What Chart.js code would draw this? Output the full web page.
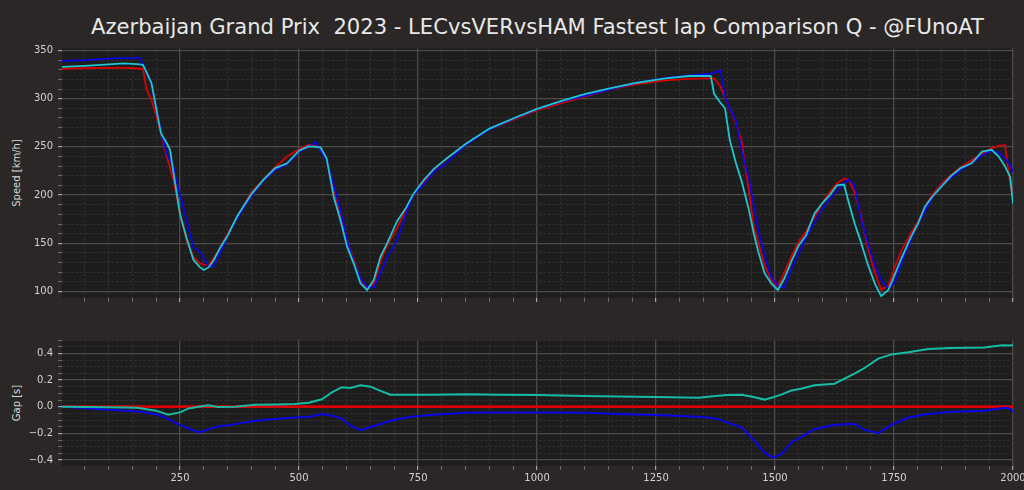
<!DOCTYPE html>
<html><head><meta charset="utf-8">
<script src="https://cdn.jsdelivr.net/npm/chart.js@4.4.0/dist/chart.umd.min.js"></script>
<style>
html,body{margin:0;padding:0;background:#2a2726;width:1024px;height:490px;overflow:hidden;font-family:"DejaVu Sans",sans-serif;}
#title{position:absolute;left:62px;width:951px;top:14px;text-align:center;color:#e8e8e8;font-size:21.1px;line-height:26px;white-space:pre;}
.ylab{position:absolute;width:200px;height:12px;line-height:12px;color:#d8d8d8;font-size:10px;text-align:center;transform:rotate(-90deg);white-space:nowrap;}
#w1{position:absolute;left:0;top:0;}
#w2{position:absolute;left:0;top:310px;}
</style></head>
<body>
<div id="title">Azerbaijan Grand Prix  2023 - LECvsVERvsHAM Fastest lap Comparison Q - @FUnoAT</div>
<div class="ylab" style="left:-83px;top:167px;">Speed [km/h]</div>
<div class="ylab" style="left:-83px;top:397px;">Gap [s]</div>
<canvas id="w1" width="1024" height="308"></canvas>
<canvas id="w2" width="1024" height="180"></canvas>
<script>
// ---- Speed trace data ----
const distance = [
  2, 50, 100, 130, 150, 165, 172, 180, 190, 200,
  210, 222, 229, 236, 243, 250, 264, 278, 292, 300,
  310, 320, 335, 350, 370, 400, 425, 450, 475, 500,
  520, 535, 545, 558, 573, 587, 601, 615, 629, 643,
  657, 671, 685, 706, 725, 740, 762, 785, 810, 850,
  900, 960, 1000, 1050, 1100, 1155, 1210, 1270, 1320, 1365,
  1372, 1385, 1395, 1405, 1418, 1430, 1445, 1455, 1465, 1478,
  1492, 1506, 1520, 1535, 1550, 1565, 1583, 1600, 1615, 1630,
  1645, 1655, 1667, 1680, 1695, 1710, 1723, 1738, 1752, 1766,
  1785, 1800, 1815, 1830, 1850, 1870, 1890, 1913, 1935, 1955,
  1970, 1983, 1994, 2000
];
const lecSpeed = [
  331, 331.5, 332, 332, 331.5, 331, 331, 309, 299, 282,
  264, 240, 228, 216, 199, 181, 153, 136, 129, 128,
  127.5, 134, 146, 160, 177, 203, 216, 229, 240, 247.5,
  252, 251, 247, 236, 205, 182, 153, 133, 113, 103,
  108, 131, 148, 166, 186, 199, 214, 227, 238, 253,
  268, 280, 288, 295, 302, 310, 315, 319, 320.5, 321,
  321, 313, 301, 290, 275, 255, 205, 168, 150, 127,
  112, 105, 120, 137, 152, 162, 177.6, 192, 203, 212,
  217, 216, 203, 180, 145, 119, 102, 106, 126, 143,
  160, 172, 188, 200, 212, 221, 229, 236, 243, 248.5,
  251, 252, 212, 199
];
const verSpeed = [
  339, 340, 341.5, 342, 342, 342, 336, 326, 316, 290,
  266, 243.5, 236, 229.5, 214, 200, 174, 146, 141, 134,
  126, 126, 140, 158, 176, 199, 215, 226, 232, 245,
  250, 255, 246, 236, 210, 185, 153, 130, 114, 105,
  104, 119, 135, 153, 181, 200, 211, 225, 233, 252,
  268, 281, 289, 297, 303, 310, 316.5, 321.5, 324, 326,
  327, 329, 302, 290, 277, 246, 217, 190, 163, 138,
  115, 106, 104, 124, 140, 156, 172, 186, 196, 204,
  213, 216, 210, 176, 150, 126, 112, 103, 110, 130,
  153, 170, 183, 197, 210, 218, 226, 233, 241, 246,
  244, 238, 231, 224
];
const hamSpeed = [
  333, 334, 335.5, 336.5, 336, 335.5, 335, 327, 316, 290,
  264, 254, 247, 224, 202, 180, 155, 133, 125, 122.3,
  125, 132, 146, 158, 178, 201, 215.7, 228, 233, 246,
  250.5, 250, 249.5, 238, 198, 174, 146.5, 129, 108.5, 101.6,
  112, 136, 150, 173, 187, 201, 215.7, 228, 238, 253,
  269, 281.5, 289.3, 297.5, 304.6, 310.8, 316.5, 321, 323.5, 323.5,
  305, 296, 290, 257, 233, 214, 185, 161, 141, 119,
  108.5, 101.6, 114, 132, 148, 158, 181, 192, 200, 210,
  211, 192, 171, 152, 128, 108, 95.3, 101.6, 118, 135,
  156, 170, 188, 198, 209, 220, 228, 233, 245, 247,
  240, 230, 219, 191
];
// ---- Gap data (reference: LEC) ----
const gapDistance = [
  2, 100, 160, 200, 225, 250, 268, 289, 310, 330,
  366, 408, 450, 492, 520, 548, 570, 590, 608, 629,
  650, 670, 692, 734, 783, 850, 920, 1000, 1100, 1170,
  1250, 1340, 1375, 1400, 1430, 1457, 1478, 1496, 1513, 1534,
  1555, 1583, 1625, 1667, 1688, 1717, 1745, 1780, 1822, 1870,
  1940, 1977, 1990, 2000
];
const lecGap = [
  0, 0, 0, 0, 0, 0, 0, 0, 0, 0,
  0, 0, 0, 0, 0, 0, 0, 0, 0, 0,
  0, 0, 0, 0, 0, 0, 0, 0, 0, 0,
  0, 0, 0, 0, 0, 0, 0, 0, 0, 0,
  0, 0, 0, 0, 0, 0, 0, 0, 0, 0,
  0, 0, 0, 0
];
const verGap = [
  0, -0.023, -0.034, -0.057, -0.092, -0.138, -0.164, -0.194, -0.17, -0.148,
  -0.131, -0.106, -0.093, -0.081, -0.078, -0.055, -0.068, -0.09, -0.143, -0.176,
  -0.152, -0.132, -0.106, -0.075, -0.06, -0.045, -0.043, -0.043, -0.045, -0.055,
  -0.063, -0.075, -0.088, -0.118, -0.157, -0.257, -0.345, -0.382, -0.357, -0.27,
  -0.226, -0.169, -0.136, -0.128, -0.174, -0.199, -0.136, -0.081, -0.055, -0.038,
  -0.03, -0.01, -0.01, -0.035
];
const hamGap = [
  0, -0.004, -0.008, -0.03, -0.06, -0.043, -0.013, 0, 0.01, -0.003,
  0, 0.015, 0.017, 0.02, 0.03, 0.055, 0.11, 0.146, 0.14, 0.16,
  0.15, 0.12, 0.09, 0.09, 0.09, 0.093, 0.09, 0.088, 0.08, 0.077,
  0.072, 0.067, 0.08, 0.088, 0.09, 0.07, 0.053, 0.07, 0.09, 0.121,
  0.135, 0.16, 0.172, 0.247, 0.29, 0.36, 0.392, 0.408, 0.432, 0.44,
  0.443, 0.46, 0.458, 0.46
];
// ---- ticks ----
const xTicks = [50,100,150,200,250,300,350,400,450,500,550,600,650,700,750,800,850,900,950,1000,
  1050,1100,1150,1200,1250,1300,1350,1400,1450,1500,1550,1600,1650,1700,1750,1800,1850,1900,1950,2000];
const xMajorLabels = [250, 500, 750, 1000, 1250, 1500, 1750, 2000];
const speedTicks = [100,110,120,130,140,150,160,170,180,190,200,210,220,230,240,250,260,270,280,290,300,310,320,330,340,350];
const speedMajor = [100, 150, 200, 250, 300, 350];
const gapTicks = [-0.4,-0.35,-0.3,-0.25,-0.2,-0.15,-0.1,-0.05,0,0.05,0.1,0.15,0.2,0.25,0.3,0.35,0.4,0.45,0.5];
const gapMajor = [-0.4, -0.2, 0, 0.2, 0.4];
const gapLabels = {'-0.4':'\u22120.4','-0.2':'\u22120.2','0':'0.0','0.2':'0.2','0.4':'0.4'};

const COL = {LEC:'#d80000', VER:'#0a06e8', HAM_SPEED:'#1ec6d0', HAM_GAP:'#16bba6'};
const FG = '#d2d2d2';
Chart.defaults.font.family = '"DejaVu Sans", sans-serif';
Chart.defaults.font.size = 10;
Chart.defaults.color = FG;

const inList = (list, v) => list.some(m => Math.abs(m - v) < 1e-6);
function pts(xs, ys){ return xs.map((x,i)=>({x:x, y:ys[i]})); }

const bgPlugin = {id:'plotbg', beforeDraw(chart){
  const {ctx, chartArea:a} = chart; ctx.save(); ctx.fillStyle = '#1e1d1d';
  ctx.fillRect(a.left, a.top, a.right-a.left, a.bottom-a.top); ctx.restore(); }};

function gridFor(major){
  const isM = c => c.tick && inList(major, c.tick.value);
  return {
    grid: {
      color: c => isM(c) ? '#4e4a49' : '#383535',
      lineWidth: c => isM(c) ? 1.3 : 0.8,
      tickColor: c => isM(c) ? '#bdbdbd' : '#8a8a8a',
      tickLength: 4,
      tickWidth: c => isM(c) ? 1 : 0.7
    },
    border: { display:false, dash: c => isM(c) ? [] : [2.5, 2] }
  };
}
function setTicks(list){ return s => { s.ticks = list.map(v => ({value:v})); }; }
function fitX(h){ return s => { s.height = h; s.paddingLeft = 0; s.paddingRight = 0; s.paddingTop = 0; s.paddingBottom = 0; }; }
function fitY(w){ return s => { s.width = w; s.paddingLeft = 0; s.paddingRight = 0; s.paddingTop = 0; s.paddingBottom = 0; }; }

function lineDs(label, xs, ys, color, order, w){
  return {label, data: pts(xs, ys), borderColor: color, backgroundColor: color,
    borderWidth: w, pointRadius: 0, tension: 0, order};
}

new Chart(document.getElementById('w1'), {
  type:'line',
  data:{ datasets:[
    lineDs('LEC', distance, lecSpeed, COL.LEC, 2, 1.8),
    lineDs('VER', distance, verSpeed, COL.VER, 1, 1.8),
    lineDs('HAM', distance, hamSpeed, COL.HAM_SPEED, 0, 1.8)
  ]},
  options:{
    responsive:false, animation:false, devicePixelRatio:1,
    layout:{padding:{left:0, right:11, top:48.5, bottom:0}},
    plugins:{legend:{display:false}, tooltip:{enabled:false}},
    scales:{
      x:{ type:'linear', min:2, max:2000, afterBuildTicks:setTicks(xTicks),
          afterFit: fitX(10),
          ticks:{ autoSkip:false, maxRotation:0, callback: () => '' },
          ...gridFor(xMajorLabels) },
      y:{ type:'linear', min:93.3, max:352, afterBuildTicks:setTicks(speedTicks),
          afterFit: fitY(62),
          ticks:{ autoSkip:false, padding:5, color:FG,
                  callback: v => inList(speedMajor, v) ? String(v) : '' },
          ...gridFor(speedMajor) }
    }
  },
  plugins:[bgPlugin]
});

new Chart(document.getElementById('w2'), {
  type:'line',
  data:{ datasets:[
    lineDs('LEC', gapDistance, lecGap, COL.LEC, 2, 2.6),
    lineDs('VER', gapDistance, verGap, COL.VER, 1, 2),
    lineDs('HAM', gapDistance, hamGap, COL.HAM_GAP, 0, 2)
  ]},
  options:{
    responsive:false, animation:false, devicePixelRatio:1,
    layout:{padding:{left:0, right:11, top:30, bottom:0}},
    plugins:{legend:{display:false}, tooltip:{enabled:false}},
    scales:{
      x:{ type:'linear', min:2, max:2000, afterBuildTicks:setTicks(xTicks),
          afterFit: fitX(24),
          ticks:{ autoSkip:false, maxRotation:0, padding:2, color:FG,
                  callback: v => inList(xMajorLabels, v) ? String(v) : '' },
          ...gridFor(xMajorLabels) },
      y:{ type:'linear', min:-0.445, max:0.5, afterBuildTicks:setTicks(gapTicks),
          afterFit: fitY(62),
          ticks:{ autoSkip:false, padding:5, color:FG,
                  callback: v => { const k = String(Math.round(v*10)/10); return inList(gapMajor, v) ? gapLabels[k] : ''; } },
          ...gridFor(gapMajor) }
    }
  },
  plugins:[bgPlugin]
});
</script>
</body></html>
